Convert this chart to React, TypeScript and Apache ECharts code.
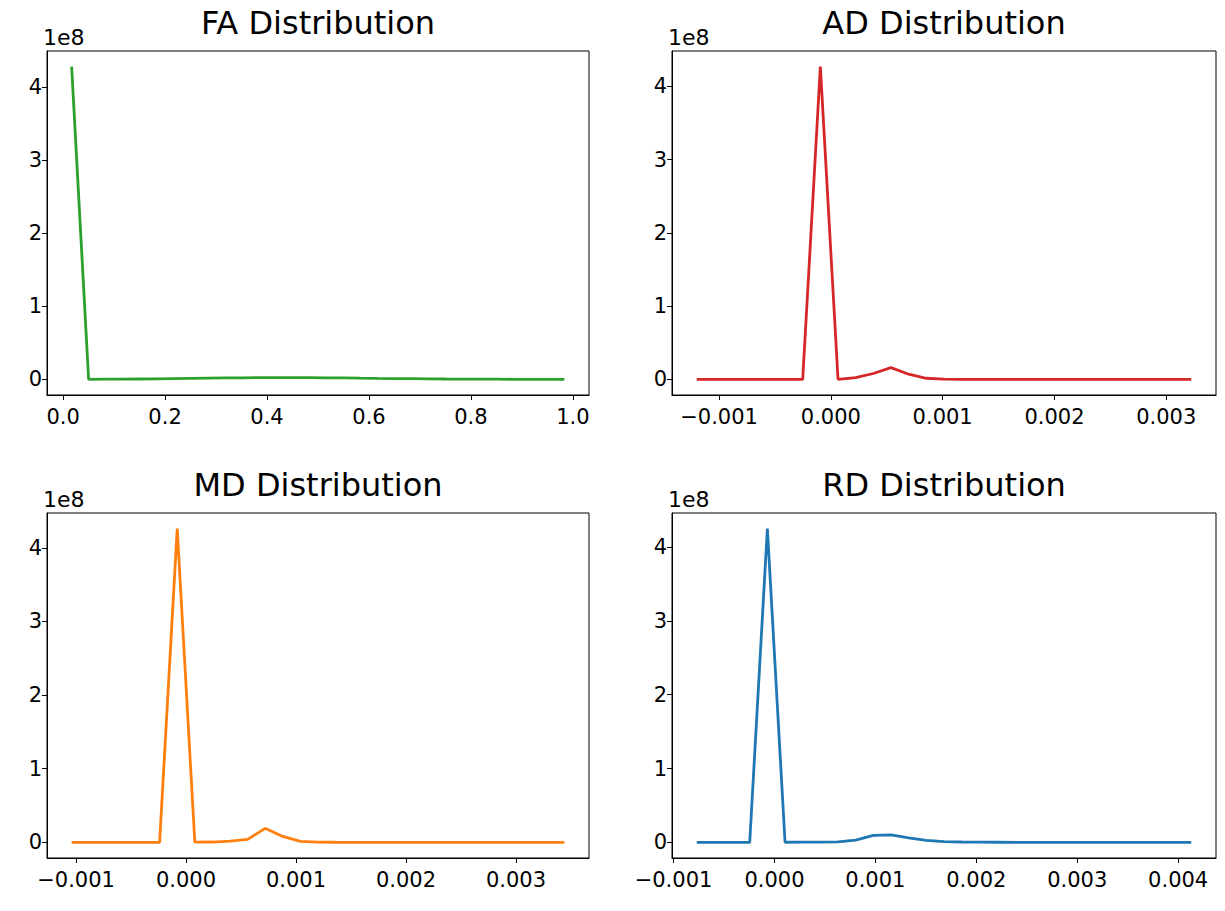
import React, { useEffect, useRef } from "react";
import * as echarts from "echarts";

// ---- Data ----
const TITLES = ["FA Distribution", "AD Distribution", "MD Distribution", "RD Distribution"];
const COLORS = ["#2ca02c", "#d62728", "#ff7f0e", "#1f77b4"];

const FA_X = [0.0167, 0.05, 0.0833, 0.1167, 0.15, 0.1833, 0.2167, 0.25, 0.2833, 0.3167, 0.35, 0.3833, 0.4167, 0.45, 0.4833, 0.5167, 0.55, 0.5833, 0.6167, 0.65, 0.6833, 0.7167, 0.75, 0.7833, 0.8167, 0.85, 0.8833, 0.9167, 0.95, 0.9833];
const FA_Y = [428000000, 200000, 300000, 400000, 600000, 800000, 1100000, 1400000, 1700000, 2000000, 2200000, 2400000, 2500000, 2500000, 2400000, 2200000, 2000000, 1700000, 1400000, 1200000, 1000000, 800000, 600000, 500000, 400000, 300000, 200000, 150000, 100000, 100000];

const AD_X = [-0.0012, -0.001042, -0.000884, -0.000726, -0.000568, -0.00041, -0.000252, -0.000094, 0.000064, 0.000222, 0.00038, 0.000538, 0.000696, 0.000854, 0.001012, 0.00117, 0.001328, 0.001486, 0.001644, 0.001802, 0.00196, 0.002118, 0.002276, 0.002434, 0.002592, 0.00275, 0.002908, 0.003066, 0.003224];
const AD_Y = [0, 0, 0, 0, 0, 0, 0, 427000000, 100000, 2500000, 8000000, 16000000, 7000000, 1500000, 300000, 100000, 0, 0, 0, 0, 0, 0, 0, 0, 0, 0, 0, 0, 0];

const MD_X = [-0.00104, -0.00088, -0.00072, -0.00056, -0.0004, -0.00024, -0.00008, 0.00008, 0.00024, 0.0004, 0.00056, 0.00072, 0.00088, 0.00104, 0.0012, 0.00136, 0.00152, 0.00168, 0.00184, 0.002, 0.00216, 0.00232, 0.00248, 0.00264, 0.0028, 0.00296, 0.00312, 0.00328, 0.00344];
const MD_Y = [0, 0, 0, 0, 0, 0, 426000000, 200000, 400000, 1600000, 4000000, 19000000, 8000000, 1400000, 300000, 100000, 0, 0, 0, 0, 0, 0, 0, 0, 0, 0, 0, 0, 0];

const RD_X = [-0.00077, -0.000595, -0.00042, -0.000245, -0.00007, 0.000105, 0.00028, 0.000455, 0.00063, 0.000805, 0.00098, 0.001155, 0.00133, 0.001505, 0.00168, 0.001855, 0.00203, 0.002205, 0.00238, 0.002555, 0.00273, 0.002905, 0.00308, 0.003255, 0.00343, 0.003605, 0.00378, 0.003955, 0.00413];
const RD_Y = [0, 0, 0, 0, 425000000, 100000, 200000, 300000, 600000, 3000000, 9500000, 10000000, 6000000, 2500000, 1000000, 400000, 200000, 100000, 0, 0, 0, 0, 0, 0, 0, 0, 0, 0, 0];

const FA_TICKS = [0, 0.2, 0.4, 0.6, 0.8, 1.0];
const AD_TICKS = [-0.001, 0, 0.001, 0.002, 0.003];
const MD_TICKS = [-0.001, 0, 0.001, 0.002, 0.003];
const RD_TICKS = [-0.001, 0, 0.001, 0.002, 0.003, 0.004];
const Y_TICKS = [0, 100000000, 200000000, 300000000, 400000000];
const Y_OFFSET_LABEL = "1e8";

const PANELS = [
  { x: FA_X, y: FA_Y, ticks: FA_TICKS, digits: 1 },
  { x: AD_X, y: AD_Y, ticks: AD_TICKS, digits: 3 },
  { x: MD_X, y: MD_Y, ticks: MD_TICKS, digits: 3 },
  { x: RD_X, y: RD_Y, ticks: RD_TICKS, digits: 3 },
];

// ---- Layout ----
const GRIDS = [
  { left: 47, top: 51, width: 542, height: 344 },
  { left: 672, top: 51, width: 544, height: 344 },
  { left: 47, top: 513, width: 542, height: 345 },
  { left: 672, top: 513, width: 544, height: 345 },
];
const FONT = "DejaVu Sans";
const TICK_FS = 21;
const TITLE_FS = 32;
const OFFSET_FS = 22;

function fmtX(v: number, digits: number) {
  const s = Math.abs(v).toFixed(digits);
  return v < -1e-12 ? "\u2212" + s : s;
}

export default function App() {
  const ref = useRef<HTMLDivElement>(null);
  useEffect(() => {
    if (!ref.current) return;
    const chart = echarts.init(ref.current, null, { renderer: "svg" });
    const margin = (v: any, side: number) => {
      const span = v.max - v.min;
      return side < 0 ? v.min - 0.05 * span : v.max + 0.05 * span;
    };
    const option: any = {
      animation: false,
      backgroundColor: "#ffffff",
      grid: GRIDS.map((g) => ({
        ...g,
        show: true,
        borderColor: "#000",
        borderWidth: 1,
        backgroundColor: "transparent",
        containLabel: false,
      })),
      xAxis: PANELS.map((p, i) => ({
        type: "value",
        gridIndex: i,
        min: (v: any) => margin(v, -1),
        max: (v: any) => margin(v, 1),
        axisLine: { show: true, onZero: false, lineStyle: { color: "#000", width: 1 } },
        axisTick: { show: true, inside: false, length: 5, customValues: p.ticks, lineStyle: { color: "#000", width: 1 } },
        axisLabel: {
          show: true,
          customValues: p.ticks,
          margin: 11,
          fontSize: TICK_FS,
          fontFamily: FONT,
          color: "#000",
          formatter: (v: number) => fmtX(v, p.digits),
        },
        splitLine: { show: false },
      })),
      yAxis: PANELS.map((p, i) => ({
        type: "value",
        gridIndex: i,
        min: (v: any) => margin(v, -1),
        max: (v: any) => margin(v, 1),
        axisLine: { show: true, onZero: false, lineStyle: { color: "#000", width: 1 } },
        axisTick: { show: true, inside: false, length: 5, customValues: Y_TICKS, lineStyle: { color: "#000", width: 1 } },
        axisLabel: {
          show: true,
          customValues: Y_TICKS,
          margin: 5,
          fontSize: TICK_FS,
          fontFamily: FONT,
          color: "#000",
          formatter: (v: number) => String(Math.round(v / 1e8)),
        },
        splitLine: { show: false },
      })),
      series: PANELS.map((p, i) => ({
        type: "line",
        xAxisIndex: i,
        yAxisIndex: i,
        data: p.x.map((x, k) => [x, p.y[k]]),
        showSymbol: false,
        symbol: "none",
        lineStyle: { color: COLORS[i], width: 2.8 },
        itemStyle: { color: COLORS[i] },
      })),
      graphic: [
        ...GRIDS.map((g, i) => ({
          type: "text",
          x: g.left + g.width / 2,
          y: g.top - 28,
          style: {
            text: TITLES[i],
            fontSize: TITLE_FS,
            fontFamily: FONT,
            fill: "#000",
            align: "center",
            verticalAlign: "middle",
          },
        })),
        ...GRIDS.map((g) => ({
          type: "text",
          x: g.left - 4,
          y: g.top - 3,
          style: {
            text: Y_OFFSET_LABEL,
            fontSize: OFFSET_FS,
            fontFamily: FONT,
            fill: "#000",
            align: "left",
            verticalAlign: "bottom",
          },
        })),
      ],
    };
    chart.setOption(option);
    return () => chart.dispose();
  }, []);
  return (
    <div
      ref={ref}
      style={{ position: "fixed", left: 0, top: 0, width: 1225, height: 911, background: "#fff" }}
    />
  );
}
